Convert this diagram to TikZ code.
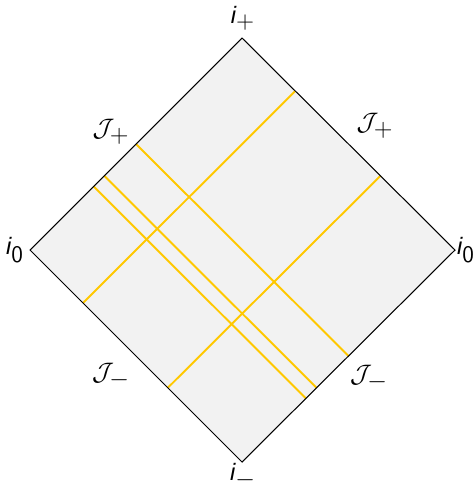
\documentclass[tikz,border=0pt]{standalone}
\usepackage{fontspec}
\setmainfont{Liberation Sans}
\usetikzlibrary{calc}
\definecolor{diamondgray}{HTML}{F2F2F2}
\definecolor{nullgold}{HTML}{FFC800}
\newcommand{\ilab}[1]{{\itshape i}$_{\textsf{#1}}$}
\newcommand{\scri}[1]{$\mathcal{J}_{\textsf{#1}}$}

\begin{document}
\begin{tikzpicture}[x=0.02cm,y=-0.02cm,
  edge/.style={draw=black,line width=0.6pt},
  ray/.style={draw=nullgold,line width=1.1pt},
  lab/.style={font=\fontsize{13.5}{15}\selectfont,inner sep=0pt},
  scrlab/.style={font=\fontsize{14}{16}\selectfont,inner sep=0pt}]
\useasboundingbox (0,0) rectangle (475,487);

% corners of the diamond
\coordinate (T) at (242,38);
\coordinate (L) at (30,250);
\coordinate (R) at (455,250);
\coordinate (B) at (242,462);

\fill[diamondgray] (T)--(R)--(B)--(L)--cycle;

% ingoing rays
\foreach \t in {0.30,0.35,0.50}
  \draw[ray] ($(L)!\t!(T)$) -- ($(B)!\t!(R)$);
% outgoing rays
\foreach \t in {0.25,0.65}
  \draw[ray] ($(L)!\t!(B)$) -- ($(T)!\t!(R)$);

\draw[edge] (T)--(R)--(B)--(L)--cycle;

\node[lab] (ip) at (243,18) {\ilab{+}};
\node[lab] (im) at (243,476) {\ilab{$-$}};
\node[lab] (i0l) at (15,250) {\ilab{0}};
\node[lab] (i0r) at (466,250) {\ilab{0}};
\node[scrlab] (jpl) at (111,132) {\scri{+}};
\node[scrlab] (jpr) at (375,126) {\scri{+}};
\node[scrlab] (jml) at (111,376) {\scri{$-$}};
\node[scrlab] (jmr) at (369,378) {\scri{$-$}};
\end{tikzpicture}
\end{document}
